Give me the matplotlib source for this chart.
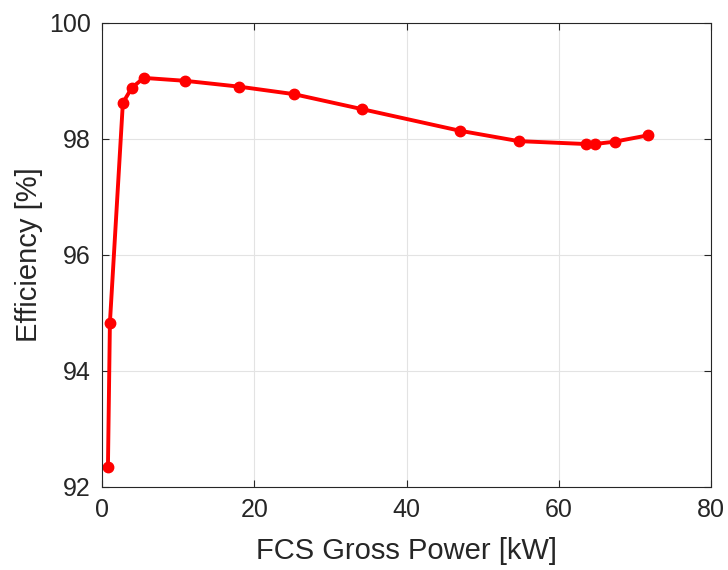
import matplotlib
matplotlib.use('Agg')
import matplotlib.pyplot as plt

# data
power = [0.79, 1.05, 2.75, 3.93, 5.5, 10.9, 17.97, 25.2, 34.2, 46.95, 54.7, 63.5, 64.7, 67.3, 71.7]
eff = [92.34, 94.83, 98.62, 98.88, 99.05, 99.0, 98.9, 98.77, 98.51, 98.14, 97.96, 97.91, 97.91, 97.95, 98.06]

plt.rcParams['font.family'] = ['Liberation Sans', 'DejaVu Sans']

fig = plt.figure(figsize=(7.28, 5.70), dpi=100)
ax = fig.add_axes([0.140, 0.146, 0.837, 0.814])

ax.plot(power, eff, '-', color='#ff0000', lw=2.8, marker='o', ms=7.5)

ax.set_xlim(0, 80)
ax.set_ylim(92, 100)
ax.set_xticks([0, 20, 40, 60, 80])
ax.set_yticks([92, 94, 96, 98, 100])
ax.grid(True, color='#e3e3e3', lw=0.8)
ax.set_axisbelow(True)
for s in ax.spines.values():
    s.set_color('#262626')
    s.set_linewidth(0.8)
ax.tick_params(direction='in', length=5, width=0.8, colors='#262626',
               labelsize=18, top=True, right=True, pad=8)
ax.set_xlabel('FCS Gross Power [kW]', fontsize=21, color='#262626', labelpad=11)
ax.set_ylabel('Efficiency [%]', fontsize=21, color='#262626', labelpad=4)

fig.savefig('out.png', dpi=100)
